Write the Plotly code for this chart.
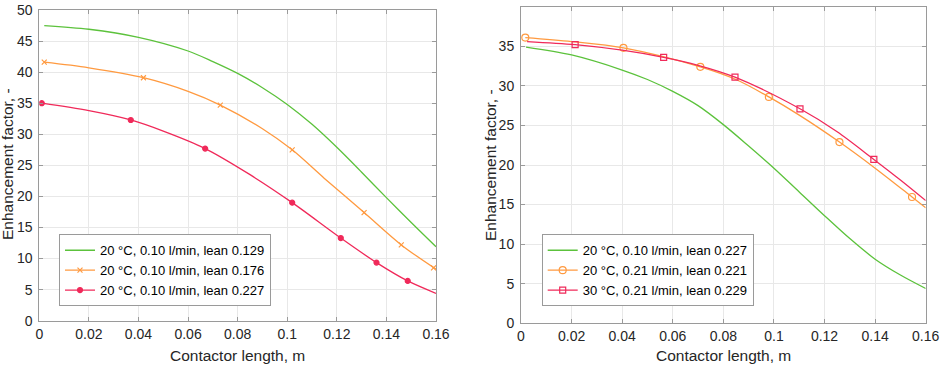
import plotly.graph_objects as go

# ---------------- data ----------------
# Left panel
L_green_x = [0.002, 0.02, 0.04, 0.06, 0.07, 0.08, 0.09, 0.10, 0.11, 0.12, 0.13, 0.14, 0.15, 0.16]
L_green_y = [47.5, 46.9, 45.6, 43.4, 41.7, 39.8, 37.5, 34.8, 31.6, 27.9, 23.9, 19.8, 15.8, 11.9]

L_orange_x = [0.002, 0.02, 0.042, 0.06, 0.073, 0.09, 0.102, 0.115, 0.131, 0.146, 0.16]
L_orange_y = [41.6, 40.7, 39.1, 36.9, 34.7, 30.9, 27.5, 22.9, 17.4, 12.2, 8.3]
L_orange_mx = [0.002, 0.042, 0.073, 0.102, 0.131, 0.146, 0.159]
L_orange_my = [41.6, 39.1, 34.7, 27.5, 17.4, 12.2, 8.5]

L_red_x = [0.001, 0.02, 0.0369, 0.05, 0.0669, 0.085, 0.102, 0.1216, 0.136, 0.1486, 0.16]
L_red_y = [35.0, 33.8, 32.3, 30.5, 27.7, 23.5, 19.0, 13.3, 9.35, 6.4, 4.4]
L_red_mx = [0.001, 0.0369, 0.0669, 0.102, 0.1216, 0.136, 0.1486]
L_red_my = [35.0, 32.3, 27.7, 19.0, 13.3, 9.35, 6.4]

L_names = ["20 °C, 0.10 l/min, lean 0.129",
           "20 °C, 0.10 l/min, lean 0.176",
           "20 °C, 0.10 l/min, lean 0.227"]

# Right panel
R_green_x = [0.002, 0.02, 0.04, 0.05, 0.06, 0.07, 0.08, 0.09, 0.10, 0.11, 0.12, 0.13, 0.14, 0.15, 0.16]
R_green_y = [34.9, 33.9, 32.0, 30.8, 29.3, 27.5, 25.1, 22.4, 19.6, 16.6, 13.6, 10.7, 8.1, 6.1, 4.4]

R_orange_x = [0.0017, 0.02, 0.0405, 0.0709, 0.085, 0.098, 0.11, 0.1259, 0.14, 0.1546, 0.16]
R_orange_y = [36.1, 35.6, 34.8, 32.4, 30.8, 28.6, 26.3, 22.9, 19.6, 15.96, 14.6]
R_orange_mx = [0.0017, 0.0405, 0.0709, 0.098, 0.1259, 0.1546]
R_orange_my = [36.1, 34.8, 32.4, 28.6, 22.9, 15.96]

R_red_x = [0.0024, 0.0214, 0.04, 0.0564, 0.07, 0.0846, 0.1103, 0.125, 0.1395, 0.15, 0.16]
R_red_y = [35.6, 35.2, 34.5, 33.6, 32.6, 31.1, 27.1, 24.2, 20.7, 18.1, 15.5]
R_red_mx = [0.0214, 0.0564, 0.0846, 0.1103, 0.1395]
R_red_my = [35.2, 33.6, 31.1, 27.1, 20.7]

R_names = ["20 °C, 0.10 l/min, lean 0.227",
           "20 °C, 0.21 l/min, lean 0.221",
           "30 °C, 0.21 l/min, lean 0.229"]

x_ticks = [0, 0.02, 0.04, 0.06, 0.08, 0.1, 0.12, 0.14, 0.16]

# ---------------- styling ----------------
GREEN = "#5cc23c"
ORANGE = "#ff9a40"
RED = "#f02a5a"
FONT = "Liberation Sans, Arial, sans-serif"
TXT = "#262626"

fig = go.Figure()


def add_curve(x, y, color, xa, ya):
    fig.add_trace(go.Scatter(x=x, y=y, mode="lines", line=dict(color=color, width=1.3, shape="spline", smoothing=0.9),
                             xaxis=xa, yaxis=ya, showlegend=False, hoverinfo="skip"))


def add_markers(x, y, color, symbol, size, xa, ya):
    fig.add_trace(go.Scatter(x=x, y=y, mode="markers",
                             marker=dict(color=color, symbol=symbol, size=size, line=dict(color=color, width=1.2)),
                             xaxis=xa, yaxis=ya, showlegend=False, hoverinfo="skip"))


def add_legend(name, color, mode, symbol, size, xa, ya, legend):
    fig.add_trace(go.Scatter(x=[None], y=[None], mode=mode, name=name,
                             line=dict(color=color, width=1.3),
                             marker=dict(color=color, symbol=symbol, size=size, line=dict(color=color, width=1.2)),
                             xaxis=xa, yaxis=ya, legend=legend))


# left
add_curve(L_green_x, L_green_y, GREEN, "x", "y")
add_curve(L_orange_x, L_orange_y, ORANGE, "x", "y")
add_markers(L_orange_mx, L_orange_my, ORANGE, "x-thin", 5, "x", "y")
add_curve(L_red_x, L_red_y, RED, "x", "y")
add_markers(L_red_mx, L_red_my, RED, "circle", 5, "x", "y")
add_legend(L_names[0], GREEN, "lines", "circle", 5, "x", "y", "legend")
add_legend(L_names[1], ORANGE, "lines+markers", "x-thin", 5, "x", "y", "legend")
add_legend(L_names[2], RED, "lines+markers", "circle", 5, "x", "y", "legend")

# right
add_curve(R_green_x, R_green_y, GREEN, "x2", "y2")
add_curve(R_orange_x, R_orange_y, ORANGE, "x2", "y2")
add_markers(R_orange_mx, R_orange_my, ORANGE, "circle-open", 7, "x2", "y2")
add_curve(R_red_x, R_red_y, RED, "x2", "y2")
add_markers(R_red_mx, R_red_my, RED, "square-open", 6, "x2", "y2")
add_legend(R_names[0], GREEN, "lines", "circle", 5, "x2", "y2", "legend2")
add_legend(R_names[1], ORANGE, "lines+markers", "circle-open", 7, "x2", "y2", "legend2")
add_legend(R_names[2], RED, "lines+markers", "square-open", 6, "x2", "y2", "legend2")

W, H = 941, 365
Lx0, Lx1, Ly_top, Ly_bot = 39.3, 436.0, 10.0, 320.7
Rx0, Rx1, Ry_top, Ry_bot = 521.0, 925.7, 6.7, 323.3

axis_common = dict(showgrid=True, gridcolor="#e8e8e8", gridwidth=1, zeroline=False,
                   showline=True, linecolor="#9a9a9a", linewidth=1, mirror="ticks",
                   ticks="inside", ticklen=4, tickcolor="#9a9a9a",
                   tickfont=dict(family=FONT, size=14, color=TXT))

fig.update_layout(
    width=W, height=H,
    margin=dict(l=0, r=0, t=0, b=0, autoexpand=False),
    paper_bgcolor="white", plot_bgcolor="white",
    font=dict(family=FONT, color=TXT),
    xaxis=dict(domain=[Lx0 / W, Lx1 / W], range=[0, 0.16], tickvals=x_ticks, anchor="y", **axis_common),
    yaxis=dict(domain=[1 - Ly_bot / H, 1 - Ly_top / H], range=[0, 50], dtick=5, anchor="x",
               ticklabelstandoff=3, **axis_common),
    xaxis2=dict(domain=[Rx0 / W, Rx1 / W], range=[0, 0.16], tickvals=x_ticks, anchor="y2", **axis_common),
    yaxis2=dict(domain=[1 - Ry_bot / H, 1 - Ry_top / H], range=[0, 40], dtick=5, anchor="x2",
                ticklabelstandoff=3, **axis_common),
    legend=dict(x=59 / W, y=1 - 234.3 / H, xanchor="left", yanchor="top",
                bgcolor="white", bordercolor="#9a9a9a", borderwidth=1,
                font=dict(family=FONT, size=13, color="black"), tracegroupgap=0, itemwidth=30),
    legend2=dict(x=541.7 / W, y=1 - 234.3 / H, xanchor="left", yanchor="top",
                 bgcolor="white", bordercolor="#9a9a9a", borderwidth=1,
                 font=dict(family=FONT, size=13, color="black"), tracegroupgap=0, itemwidth=30),
    annotations=[
        dict(text="Contactor length, m", x=(Lx0 + Lx1) / 2 / W, y=1 - 355 / H, xref="paper", yref="paper",
             showarrow=False, font=dict(family=FONT, size=15.5, color=TXT), xanchor="center", yanchor="middle"),
        dict(text="Contactor length, m", x=(Rx0 + Rx1) / 2 / W, y=1 - 355 / H, xref="paper", yref="paper",
             showarrow=False, font=dict(family=FONT, size=15.5, color=TXT), xanchor="center", yanchor="middle"),
        dict(text="Enhancement factor, -", x=8 / W, y=1 - 164 / H, xref="paper", yref="paper", textangle=-90,
             showarrow=False, font=dict(family=FONT, size=15.5, color=TXT), xanchor="center", yanchor="middle"),
        dict(text="Enhancement factor, -", x=490 / W, y=1 - 165 / H, xref="paper", yref="paper", textangle=-90,
             showarrow=False, font=dict(family=FONT, size=15.5, color=TXT), xanchor="center", yanchor="middle"),
    ],
)

fig.write_html("out.html", config={"displayModeBar": False})

# remove the default page margin so the figure fills the window exactly
with open("out.html", "r", encoding="utf-8") as f:
    html = f.read()
html = html.replace("<head>", "<head><style>html,body{margin:0;padding:0;overflow:hidden;}</style>", 1)
with open("out.html", "w", encoding="utf-8") as f:
    f.write(html)
